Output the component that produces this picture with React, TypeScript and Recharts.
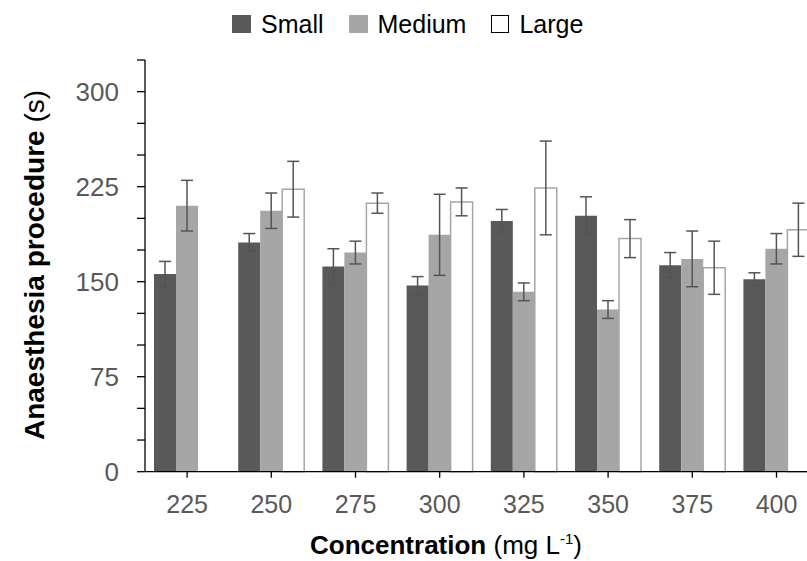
import React from 'react';
import { BarChart, Bar, XAxis, YAxis, ErrorBar } from 'recharts';

// Concentration groups (mg L-1)
const categories = ['225', '250', '275', '300', '325', '350', '375', '400'];

// Anaesthesia procedure time (s) by fish size
const small = [156, 181, 162, 147, 198, 202, 163, 152];
const smallErr = [10, 7, 14, 7, 9, 15, 10, 5];
const medium = [210, 206, 173, 187, 142, 128, 168, 176];
const mediumErr = [20, 14, 9, 32, 7, 7, 22, 12];
const large = [null, 223, 212, 213, 224, 184, 161, 191];
const largeErr = [null, 22, 8, 11, 37, 15, 21, 21];

const yTicks = [0, 25, 50, 75, 100, 125, 150, 175, 200, 225, 250, 275, 300, 325];
const yLabelled = [0, 75, 150, 225, 300];

const FONT = '"Liberation Sans", Arial, sans-serif';
const DARK = '#595959';
const MID = '#a6a6a6';

const data = categories.map((c, i) => ({
  conc: c,
  small: small[i],
  smallErr: smallErr[i],
  medium: medium[i],
  mediumErr: mediumErr[i],
  large: large[i],
  largeErr: largeErr[i],
}));

const XTick = ({ x, y, payload }: any) => (
  <text x={x} y={y + 33} textAnchor="middle" fill={DARK} fontSize={25} fontFamily={FONT}>
    {payload.value}
  </text>
);

const YTick = ({ x, y, payload }: any) => {
  if (!yLabelled.includes(payload.value)) return null;
  return (
    <text x={x - 16} y={y} dy="0.36em" textAnchor="end" fill={DARK} fontSize={26} fontFamily={FONT}>
      {payload.value}
    </text>
  );
};

const XTitle = () => (
  <text x={446} y={554} textAnchor="middle" fill="#000" fontSize={26} fontFamily={FONT}>
    <tspan fontWeight="bold">Concentration</tspan>
    <tspan> (mg L</tspan>
    <tspan fontSize={15} dy={-10}>-1</tspan>
    <tspan dy={10}>)</tspan>
  </text>
);

const YTitle = () => (
  <text
    x={44}
    y={265}
    transform="rotate(-90 44 265)"
    textAnchor="middle"
    fill="#000"
    fontSize={28}
    fontFamily={FONT}
  >
    <tspan fontWeight="bold">Anaesthesia procedure</tspan>
    <tspan> (s)</tspan>
  </text>
);

const legendItems = [
  { name: 'Small', fill: DARK },
  { name: 'Medium', fill: MID },
  { name: 'Large', fill: '#fff' },
];

export default function App() {
  return (
    <div style={{ position: 'absolute', left: 0, top: 0, width: 807, height: 561, overflow: 'hidden', background: '#fff' }}>
      <div
        style={{
          position: 'absolute',
          left: 232,
          top: 10,
          display: 'flex',
          alignItems: 'center',
          fontFamily: FONT,
          fontSize: 25,
          color: '#000',
          lineHeight: '28px',
        }}
      >
        {legendItems.map((it) => (
          <div key={it.name} style={{ display: 'flex', alignItems: 'center', marginRight: 25 }}>
            <div
              style={{
                width: it.name === 'Large' ? 16 : 19,
                height: it.name === 'Large' ? 16 : 18,
                background: it.fill,
                border: it.name === 'Large' ? '1px solid #000' : 'none',
                marginRight: 10,
              }}
            />
            <span>{it.name}</span>
          </div>
        ))}
      </div>
      <BarChart
        width={830}
        height={561}
        data={data}
        margin={{ top: 60, right: 11.4, left: 85, bottom: 59.3 }}
        barCategoryGap={9}
        barGap={0}
      >
        <XAxis
          dataKey="conc"
          height={30}
          tickSize={6}
          axisLine={{ stroke: '#000', strokeWidth: 1.3 }}
          tickLine={{ stroke: '#000', strokeWidth: 1.3 }}
          tick={<XTick />}
          interval={0}
          label={<XTitle />}
        />
        <YAxis
          width={60}
          domain={[0, 325]}
          ticks={yTicks}
          interval={0}
          tickSize={8}
          axisLine={{ stroke: '#000', strokeWidth: 1.3 }}
          tickLine={{ stroke: '#000', strokeWidth: 1.3 }}
          tick={<YTick />}
          label={<YTitle />}
        />
        <Bar dataKey="small" fill={DARK} isAnimationActive={false}>
          <ErrorBar dataKey="smallErr" width={6} stroke="#555" strokeWidth={1.5} direction="y" isAnimationActive={false} />
        </Bar>
        <Bar dataKey="medium" fill={MID} isAnimationActive={false}>
          <ErrorBar dataKey="mediumErr" width={6} stroke="#555" strokeWidth={1.5} direction="y" isAnimationActive={false} />
        </Bar>
        <Bar dataKey="large" fill="#fff" stroke={MID} strokeWidth={1.5} isAnimationActive={false}>
          <ErrorBar dataKey="largeErr" width={6} stroke="#555" strokeWidth={1.5} direction="y" isAnimationActive={false} />
        </Bar>
      </BarChart>
    </div>
  );
}
